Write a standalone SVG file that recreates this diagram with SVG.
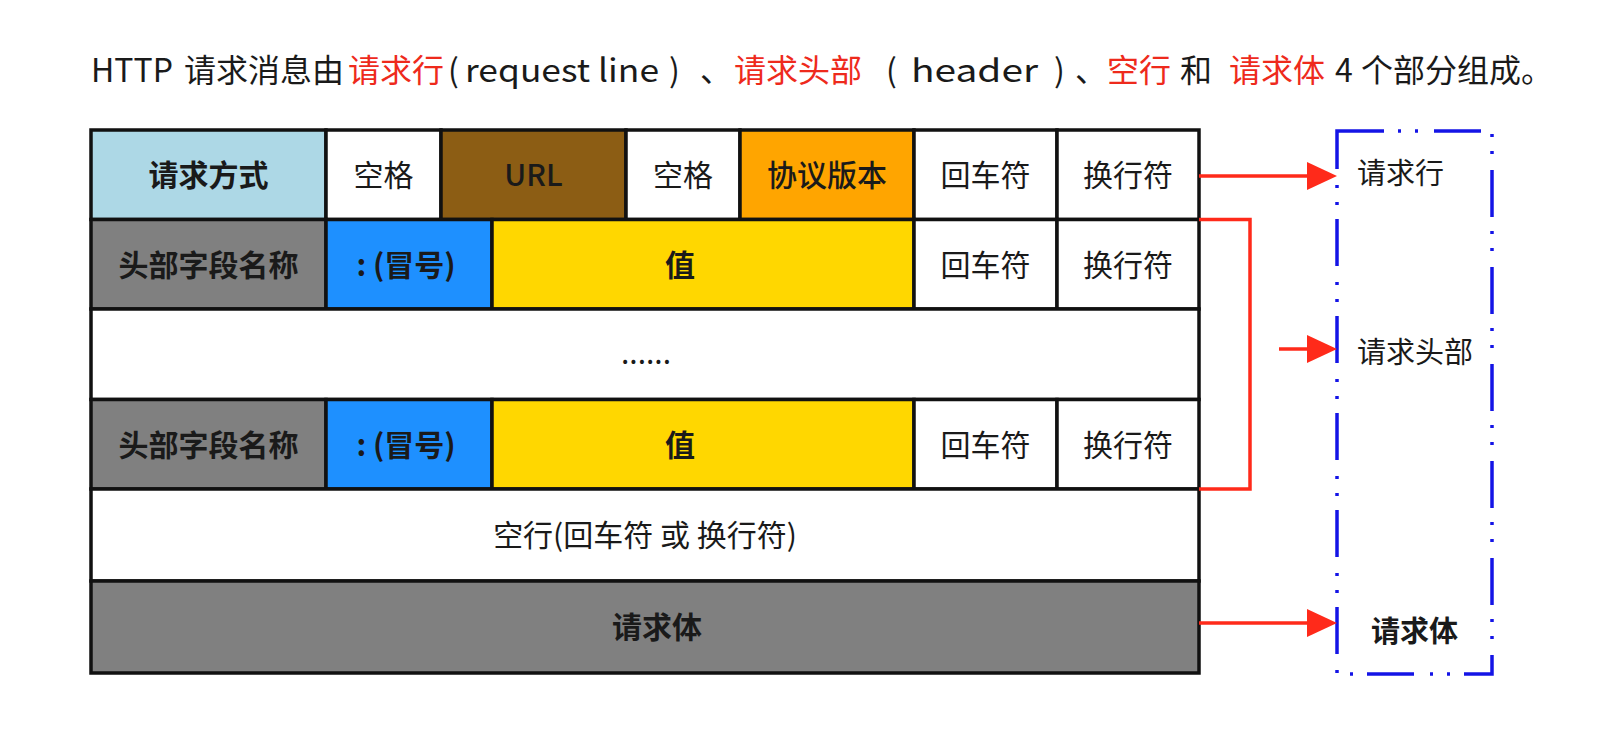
<svg xmlns="http://www.w3.org/2000/svg" width="1621" height="736" viewBox="0 0 1621 736">
<defs>
<style>
text{font-family:"Noto Sans CJK SC","Noto Sans",sans-serif;fill:#1a1a1a}
.title{font-size:32px}
.red{fill:#EE2A1C}
.cell{stroke:#111;stroke-width:3.5}
.t{font-size:30px;text-anchor:middle}
.b{font-weight:bold}
.conn{fill:none;stroke:#FF2A1A;stroke-width:3.5}
.lbl{font-size:29px}
</style>
<marker id="ah" markerUnits="userSpaceOnUse" markerWidth="30" markerHeight="28" refX="2" refY="14" orient="auto">
<path d="M0,0 L30,14 L0,28 z" fill="#FF2A1A"/>
</marker>
</defs>
<rect width="1621" height="736" fill="#fff"/>

<g id="title">
<text class="title" y="82"><tspan x="91">HTTP</tspan><tspan x="184">请求消息由</tspan><tspan x="348" class="red">请求行</tspan><tspan x="448">(</tspan><tspan x="465" textLength="194" lengthAdjust="spacingAndGlyphs">request line</tspan><tspan x="669">)</tspan><tspan x="700">、</tspan><tspan x="734" class="red">请求头部</tspan><tspan x="886">(</tspan><tspan x="911" textLength="127" lengthAdjust="spacingAndGlyphs">header</tspan><tspan x="1054">)</tspan><tspan x="1075">、</tspan><tspan x="1107" class="red">空行</tspan><tspan x="1180">和</tspan><tspan x="1229" class="red">请求体</tspan><tspan x="1335">4</tspan><tspan x="1361">个部分组成。</tspan></text>
</g>

<g id="row1">
<g id="r1-method"><rect class="cell" x="91" y="130" width="235" height="89.5" fill="#ADD8E6"/><text class="t b" x="208.5" y="186">请求方式</text></g>
<g id="r1-space1"><rect class="cell" x="326" y="130" width="115" height="89.5" fill="#fff"/><text class="t" x="383.5" y="186">空格</text></g>
<g id="r1-url"><rect class="cell" x="441" y="130" width="185" height="89.5" fill="#8C5D14"/><text class="t" x="533.5" y="186" style="font-weight:500">URL</text></g>
<g id="r1-space2"><rect class="cell" x="626" y="130" width="114" height="89.5" fill="#fff"/><text class="t" x="683" y="186">空格</text></g>
<g id="r1-version"><rect class="cell" x="740" y="130" width="174" height="89.5" fill="#FFA500"/><text class="t" x="827" y="186" style="font-weight:500">协议版本</text></g>
<g id="r1-cr"><rect class="cell" x="914" y="130" width="143" height="89.5" fill="#fff"/><text class="t" x="985.5" y="186">回车符</text></g>
<g id="r1-lf"><rect class="cell" x="1057" y="130" width="142" height="89.5" fill="#fff"/><text class="t" x="1128" y="186">换行符</text></g>
</g>

<g id="row2">
<g id="r2-name"><rect class="cell" x="91" y="219.5" width="235" height="89.5" fill="#808080"/><text class="t b" x="208.5" y="275.5">头部字段名称</text></g>
<g id="r2-colon"><rect class="cell" x="326" y="219.5" width="166" height="89.5" fill="#1E90FF"/><text class="t b" x="406" y="275.5">: (冒号)</text></g>
<g id="r2-value"><rect class="cell" x="492" y="219.5" width="422" height="89.5" fill="#FFD700"/><text class="t b" x="680" y="275.5">值</text></g>
<g id="r2-cr"><rect class="cell" x="914" y="219.5" width="143" height="89.5" fill="#fff"/><text class="t" x="985.5" y="275.5">回车符</text></g>
<g id="r2-lf"><rect class="cell" x="1057" y="219.5" width="142" height="89.5" fill="#fff"/><text class="t" x="1128" y="275.5">换行符</text></g>
</g>

<g id="row3">
<rect class="cell" x="91" y="309" width="1108" height="90.5" fill="#fff"/><text class="t" x="646" y="364">......</text>
</g>

<g id="row4">
<g id="r4-name"><rect class="cell" x="91" y="399.5" width="235" height="89.5" fill="#808080"/><text class="t b" x="208.5" y="455.5">头部字段名称</text></g>
<g id="r4-colon"><rect class="cell" x="326" y="399.5" width="166" height="89.5" fill="#1E90FF"/><text class="t b" x="406" y="455.5">: (冒号)</text></g>
<g id="r4-value"><rect class="cell" x="492" y="399.5" width="422" height="89.5" fill="#FFD700"/><text class="t b" x="680" y="455.5">值</text></g>
<g id="r4-cr"><rect class="cell" x="914" y="399.5" width="143" height="89.5" fill="#fff"/><text class="t" x="985.5" y="455.5">回车符</text></g>
<g id="r4-lf"><rect class="cell" x="1057" y="399.5" width="142" height="89.5" fill="#fff"/><text class="t" x="1128" y="455.5">换行符</text></g>
</g>

<g id="row5">
<rect class="cell" x="91" y="489" width="1108" height="92" fill="#fff"/><text class="t" x="645" y="546">空行(回车符 或 换行符)</text>
</g>

<g id="row6">
<rect class="cell" x="91" y="581" width="1108" height="92" fill="#808080"/><text class="t b" x="657" y="638">请求体</text>
</g>

<g id="summary">
<rect x="1337" y="131" width="155" height="543" fill="none" stroke="#1414E6" stroke-width="3.5" stroke-dasharray="47 14 3 14 3 16"/>
<text class="lbl" x="1357" y="184">请求行</text>
<text class="lbl" x="1357" y="363">请求头部</text>
<text class="lbl b" x="1371" y="642">请求体</text>
</g>

<g id="connectors">
<line class="conn" x1="1199" y1="176" x2="1309" y2="176" marker-end="url(#ah)"/>
<polyline class="conn" points="1199,219.5 1250,219.5 1250,489 1199,489"/>
<line class="conn" x1="1279" y1="349" x2="1309" y2="349" marker-end="url(#ah)"/>
<line class="conn" x1="1199" y1="623" x2="1309" y2="623" marker-end="url(#ah)"/>
</g>
</svg>
